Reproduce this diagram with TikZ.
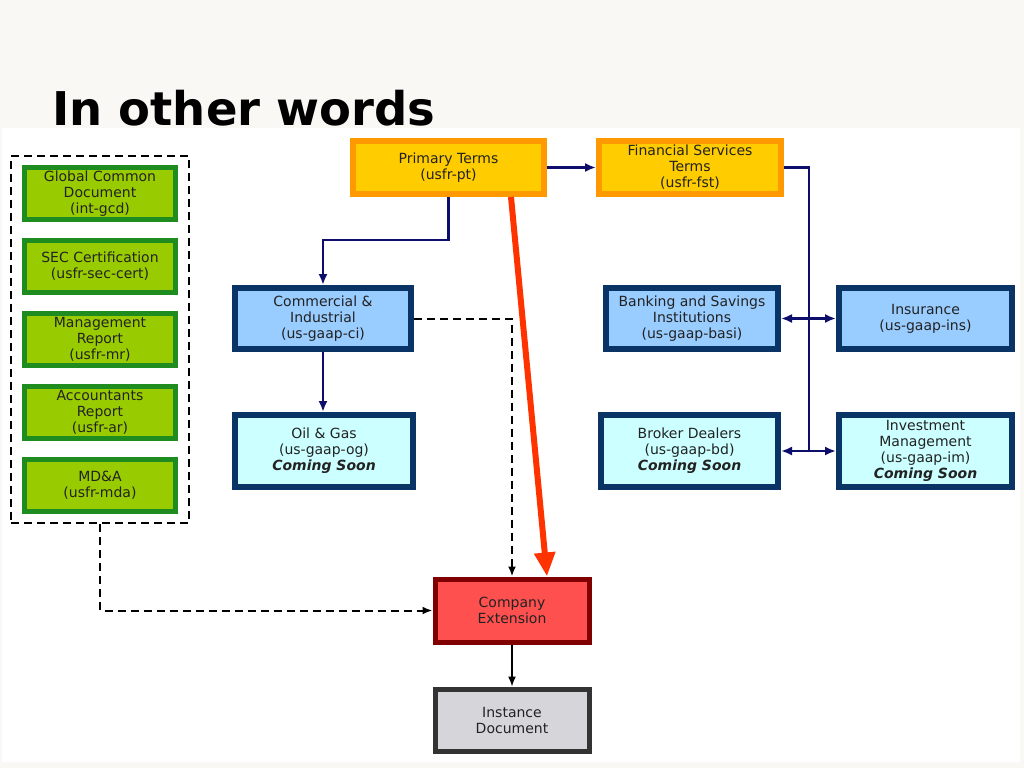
\documentclass[tikz,border=0pt]{standalone}
\usepackage{fontspec}
\setmainfont{DejaVu Sans}
\usepackage{xcolor}
\usetikzlibrary{arrows.meta}

\definecolor{paper}{HTML}{F9F8F4}
\definecolor{txtgray}{HTML}{222222}
\definecolor{gcedge}{HTML}{1F8C1F}
\definecolor{gcfill}{HTML}{99CC00}
\definecolor{ptedge}{HTML}{FF9900}
\definecolor{ptfill}{HTML}{FFCC00}
\definecolor{indedge}{HTML}{0A3366}
\definecolor{indfill}{HTML}{99CCFF}
\definecolor{soonfill}{HTML}{CCFFFF}
\definecolor{ceedge}{HTML}{800000}
\definecolor{cefill}{HTML}{FF5050}
\definecolor{idedge}{HTML}{333333}
\definecolor{idfill}{HTML}{D6D5DA}
\definecolor{navyline}{HTML}{0D0D6B}
\definecolor{redline}{HTML}{FF3300}

\tikzset{
  tbox/.style={draw, line width=5pt, inner sep=0pt, align=center, text=txtgray,
    font=\fontsize{14}{16}\selectfont},
  gcbox/.style={tbox, draw=gcedge, fill=gcfill, minimum width=151pt, minimum height=52pt},
  ptbox/.style={tbox, line width=6pt, draw=ptedge, fill=ptfill, minimum height=53pt},
  indbox/.style={tbox, line width=6pt, draw=indedge, fill=indfill, minimum height=61pt},
  soonbox/.style={tbox, line width=6pt, draw=indedge, fill=soonfill, minimum height=72pt},
  navyarrow/.style={draw=navyline, line width=2.5pt, -{Latex[length=11pt,width=9pt]}},
  navyboth/.style={draw=navyline, line width=2.5pt, {Latex[length=11pt,width=9pt]}-{Latex[length=11pt,width=9pt]}},
  dasharrow/.style={draw=black, line width=2pt, dash pattern=on 8pt off 5pt, -{Latex[length=10pt,width=8pt]}},
}
\newcommand{\soon}{{\bfseries\itshape Coming Soon}}

\begin{document}
\begin{tikzpicture}[x=1pt,y=1pt,yscale=-1,xscale=1]
    \useasboundingbox (0,0) rectangle (1024,768);
    %Shape: Rectangle [background]
    \fill [paper] (0,0) rectangle (1024,768);
    \fill [white] (2,128) rectangle (1020,762);

    % Text Node
    \node [anchor=base west, inner sep=0pt, font=\fontsize{46.5}{50}\selectfont\bfseries] (title) at (52,125) {In other words};

    %Shape: Rectangle [dashed group]
    \node [draw, line width=2pt, dash pattern=on 8pt off 5pt, minimum width=178pt, minimum height=367pt, inner sep=0pt] (grp) at (100,339.5) {};
    % Text Node
    \node [gcbox] (gcd) at (100,193.5) {Global Common\\Document\\(int-gcd)};
    \node [gcbox] (sec) at (100,266.5) {SEC Certification\\(usfr-sec-cert)};
    \node [gcbox] (mr) at (100,339.5) {Management\\Report\\(usfr-mr)};
    \node [gcbox] (ar) at (100,412.5) {Accountants\\Report\\(usfr-ar)};
    \node [gcbox] (mda) at (100,485.5) {MD\&A\\(usfr-mda)};

    % Text Node
    \node [ptbox, minimum width=191pt] (pt) at (448.5,167.5) {Primary Terms\\(usfr-pt)};
    \node [ptbox, minimum width=182pt] (fst) at (690,167.5) {Financial Services\\Terms\\(usfr-fst)};

    % Text Node
    \node [indbox, minimum width=176pt] (ci) at (323,318.5) {Commercial \&\\Industrial\\(us-gaap-ci)};
    \node [soonbox, minimum width=178pt] (og) at (324,451) {Oil \& Gas\\(us-gaap-og)\\\soon};
    \node [indbox, minimum width=172pt] (basi) at (692,318.5) {Banking and Savings\\Institutions\\(us-gaap-basi)};
    \node [indbox, minimum width=173pt] (ins) at (925.5,318.5) {Insurance\\(us-gaap-ins)};
    \node [soonbox, minimum width=177pt] (bd) at (689.5,451) {Broker Dealers\\(us-gaap-bd)\\\soon};
    \node [soonbox, minimum width=173pt] (im) at (925.5,451) {Investment\\Management\\(us-gaap-im)\\\soon};

    % Text Node
    \node [tbox, draw=ceedge, fill=cefill, minimum width=154pt, minimum height=63pt] (ce) at (512,610.5) {Company\\Extension};
    \node [tbox, draw=idedge, fill=idfill, minimum width=154pt, minimum height=62pt] (id) at (512,720) {Instance\\Document};

    %Straight Lines
    \draw [navyarrow] (pt.east) -- (fst.west);
    \draw [navyarrow] (pt.south) -- ++(0,43) -| (ci.north);
    \draw [navyarrow] (ci.south) -- (ci.south |- og.north);
    \coordinate (bus) at (809,451);
    \draw [draw=navyline, line width=2.5pt] (fst.east) -| (bus);
    \draw [navyboth] (basi.east) -- (ins.west);
    \draw [navyboth] (bd.east) -- (im.west);

    %Straight Lines
    \draw [dasharrow] (ci.east) -| (ce.north);
    \draw [dasharrow] (grp.south) |- (ce.west);
    \draw [line width=1.5pt, -{Latex[length=10pt,width=8pt]}] (ce.south) -- (id.north);

    %Straight Lines [red]
    \draw [draw=redline, line width=6pt, -{Triangle[length=24pt,width=20pt]}] ([xshift=62.5pt]pt.south) -- ([xshift=35pt]ce.north);
\end{tikzpicture}
\end{document}
